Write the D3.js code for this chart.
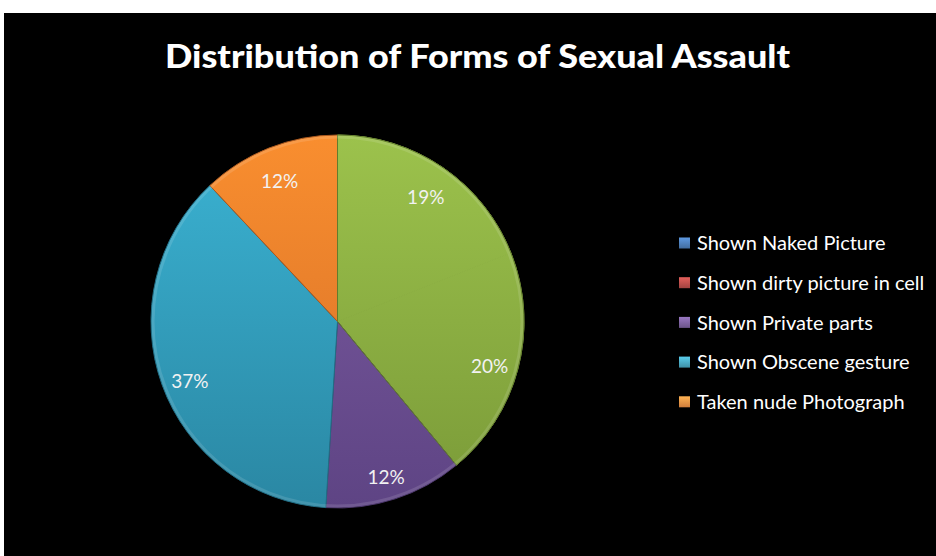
<!DOCTYPE html>
<html><head><meta charset="utf-8">
<script src="https://cdn.jsdelivr.net/npm/d3@7"></script>
<style>html,body{margin:0;padding:0;background:#fff;}svg{display:block;}</style>
</head><body>
<svg id="chart" width="936" height="556"></svg>
<script>
const categories = ["Shown Naked Picture","Shown dirty picture in cell","Shown Private parts","Shown Obscene gesture","Taken nude Photograph"];
const values = [19, 20, 12, 37, 12];
const labels = ["19%","20%","12%","37%","12%"];
const legendColors = ["#4F81BD","#C0504D","#8064A2","#4BACC6","#F79646"];
const sliceTop = ["#9CC24C","#9CC24C","#7D5CA2","#3BB3D3","#F98E2F"];
const sliceBottom = ["#7A9A38","#7A9A38","#5E4484","#2A87A3","#D46E27"];

const svg = d3.select("#chart");
svg.append("rect").attr("x",4).attr("y",13).attr("width",932).attr("height",543).attr("fill","#000");

svg.append("text").attr("x",477.5).attr("y",68).attr("text-anchor","middle")
  .attr("font-family","Lato").attr("font-weight","900").attr("font-size",32)
  .attr("fill","#fff").attr("textLength",625).attr("lengthAdjust","spacingAndGlyphs")
  .text("Distribution of Forms of Sexual Assault");

const cx = 337.5, cy = 321.5, R = 186.5;
const defs = svg.append("defs");
sliceTop.forEach((c,i)=>{
  const g = defs.append("linearGradient").attr("id","sg"+i).attr("gradientUnits","userSpaceOnUse")
    .attr("x1",0).attr("y1",-R).attr("x2",0).attr("y2",R);
  g.append("stop").attr("offset","0%").attr("stop-color",c);
  g.append("stop").attr("offset","100%").attr("stop-color",sliceBottom[i]);
});
legendColors.forEach((c,i)=>{
  const g = defs.append("linearGradient").attr("id","lg"+i).attr("x1",0).attr("y1",0).attr("x2",0).attr("y2",1);
  g.append("stop").attr("offset","0%").attr("stop-color",d3.color(c).brighter(0.5));
  g.append("stop").attr("offset","100%").attr("stop-color",d3.color(c).darker(0.5));
});

const pie = d3.pie().sort(null).value(d=>d);
const arcs = pie(values);
const arc = d3.arc().innerRadius(0).outerRadius(R);
const labelArc = d3.arc().innerRadius(157).outerRadius(157);
const g = svg.append("g").attr("transform",`translate(${cx},${cy})`);
g.selectAll("path").data(arcs).join("path")
  .attr("d",arc).attr("fill",(d,i)=>`url(#sg${i})`)
  .attr("stroke",(d,i)=> i<2 ? `url(#sg${i})` : d3.color(sliceBottom[i]).darker(0.6))
  .attr("stroke-width",1);
// green slices share a single outline
g.append("path").attr("d", d3.arc().innerRadius(0).outerRadius(R)({startAngle:arcs[0].startAngle,endAngle:arcs[1].endAngle}))
  .attr("fill","none").attr("stroke",d3.color(sliceBottom[0]).darker(0.6)).attr("stroke-width",1);
g.append("circle").attr("r",R-2).attr("fill","none").attr("stroke","rgba(255,255,255,0.12)").attr("stroke-width",3);
g.selectAll("text.lbl").data(arcs).join("text").attr("class","lbl")
  .attr("transform",(d)=>{const [x,y]=labelArc.centroid(d); return `translate(${x},${y+6})`;})
  .attr("text-anchor","middle").attr("dy","0.36em")
  .attr("font-family","Lato").attr("font-size",19).attr("fill","#f2f2f2")
  .text((d,i)=>labels[i]);

const leg = svg.append("g");
categories.forEach((c,i)=>{
  const y = 243 + i*39.7;
  leg.append("rect").attr("x",679).attr("y",y-5.5).attr("width",11).attr("height",11)
    .attr("fill",`url(#lg${i})`);
  leg.append("text").attr("x",697).attr("y",y).attr("dy","0.36em")
    .attr("font-family","Lato").attr("font-size",20).attr("fill","#fff").text(c);
});
</script>
</body></html>
